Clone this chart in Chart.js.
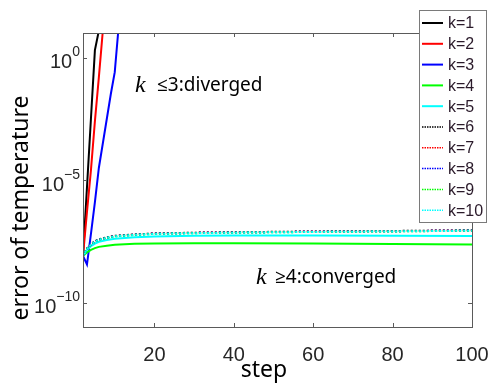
<!DOCTYPE html>
<html>
<head>
<meta charset="utf-8">
<script src="https://cdn.jsdelivr.net/npm/chart.js@4/dist/chart.umd.min.js"></script>
<style>
  html, body { margin: 0; padding: 0; background: #fff; }
  #wrap { width: 488px; height: 388px; }
</style>
</head>
<body>
<div id="wrap"><canvas id="errChart" width="488" height="388"></canvas></div>
<script>
// ── Data (values are log10 of the error) ──
const k1Steps = [2, 3, 4, 5, 6];
const k1Log   = [-8.1, -5.3, -2.5, 0.3, 1.1];
const k2Steps = [2, 3, 4, 5, 6, 7];
const k2Log   = [-8.1, -6.3, -4.6, -2.6, -0.8, 1.1];
const k3Steps = [2, 3, 4, 5, 6, 7, 8, 9, 10, 11];
const k3Log   = [-8.1, -8.45, -7.2, -5.9, -4.5, -3.5, -2.5, -1.5, -0.6, 1.3];

const convSteps = [2, 3, 4, 5, 6, 8, 10, 15, 20, 30, 40, 60, 80, 100];
const k4Log  = [-8.1, -7.95, -7.85, -7.78, -7.73, -7.68, -7.64, -7.6, -7.59, -7.58, -7.58, -7.59, -7.61, -7.63];
const k5Log  = [-8.1, -7.85, -7.7, -7.6, -7.52, -7.45, -7.4, -7.34, -7.31, -7.28, -7.27, -7.27, -7.28, -7.29];
const k6Log  = [-8.1, -7.8, -7.62, -7.5, -7.42, -7.34, -7.28, -7.22, -7.18, -7.15, -7.13, -7.1, -7.08, -7.05];
const k7Log  = [-8.1, -7.8, -7.63, -7.51, -7.43, -7.35, -7.29, -7.23, -7.19, -7.16, -7.14, -7.11, -7.09, -7.06];
const k8Log  = [-8.1, -7.81, -7.63, -7.51, -7.43, -7.35, -7.29, -7.23, -7.19, -7.16, -7.14, -7.11, -7.09, -7.06];
const k9Log  = [-8.1, -7.81, -7.64, -7.52, -7.44, -7.36, -7.3, -7.24, -7.2, -7.17, -7.15, -7.12, -7.1, -7.07];
const k10Log = [-8.1, -7.82, -7.64, -7.52, -7.44, -7.36, -7.3, -7.24, -7.2, -7.17, -7.15, -7.12, -7.1, -7.07];

const xTicks = [20, 40, 60, 80, 100];
const yTicks = [1e-10, 1e-5, 1e0];
const yTickExp = ['\u221210', '\u22125', '0'];

const toPoints = (steps, logs) => steps.map((s, i) => ({ x: s, y: Math.pow(10, logs[i]) }));

const seriesDefs = [
  { label: 'k=1',  steps: k1Steps,   logs: k1Log,  color: '#000000', dash: [] },
  { label: 'k=2',  steps: k2Steps,   logs: k2Log,  color: '#ff0000', dash: [] },
  { label: 'k=3',  steps: k3Steps,   logs: k3Log,  color: '#0000ff', dash: [] },
  { label: 'k=4',  steps: convSteps, logs: k4Log,  color: '#00ff00', dash: [] },
  { label: 'k=5',  steps: convSteps, logs: k5Log,  color: '#00ffff', dash: [] },
  { label: 'k=6',  steps: convSteps, logs: k6Log,  color: '#000000', dash: [2, 2] },
  { label: 'k=7',  steps: convSteps, logs: k7Log,  color: '#ff0000', dash: [2, 2] },
  { label: 'k=8',  steps: convSteps, logs: k8Log,  color: '#0000ff', dash: [2, 2] },
  { label: 'k=9',  steps: convSteps, logs: k9Log,  color: '#00ff00', dash: [2, 2] },
  { label: 'k=10', steps: convSteps, logs: k10Log, color: '#00ffff', dash: [2, 2] }
];

const datasets = seriesDefs.map((d, i) => ({
  label: d.label,
  data: toPoints(d.steps, d.logs),
  borderColor: d.color,
  backgroundColor: d.color,
  borderDash: d.dash,
  borderWidth: 2,
  pointRadius: 0,
  tension: 0,
  fill: false,
  order: seriesDefs.length - i
}));

// ── Frame, ticks, labels, notes and legend ──
const decorPlugin = {
  id: 'decor',
  afterDraw(chart) {
    const { ctx, chartArea: a, scales: { x, y } } = chart;
    ctx.save();

    // box
    ctx.strokeStyle = '#5a5a5a';
    ctx.lineWidth = 1;
    ctx.strokeRect(Math.round(a.left) + 0.5, Math.round(a.top) + 0.5,
                   Math.round(a.right - a.left), Math.round(a.bottom - a.top));

    // inward ticks
    ctx.beginPath();
    xTicks.forEach(v => {
      const px = Math.round(x.getPixelForValue(v)) + 0.5;
      ctx.moveTo(px, a.bottom); ctx.lineTo(px, a.bottom - 4);
      ctx.moveTo(px, a.top);    ctx.lineTo(px, a.top + 4);
    });
    yTicks.forEach(v => {
      const py = Math.round(y.getPixelForValue(v)) + 0.5;
      ctx.moveTo(a.left, py);  ctx.lineTo(a.left + 4, py);
      ctx.moveTo(a.right, py); ctx.lineTo(a.right - 4, py);
    });
    ctx.stroke();

    // y tick labels with exponents
    ctx.fillStyle = '#262626';
    ctx.textBaseline = 'middle';
    yTicks.forEach((v, i) => {
      const py = y.getPixelForValue(v);
      ctx.font = '14px "Liberation Sans", Arial, sans-serif';
      const ew = ctx.measureText(yTickExp[i]).width;
      ctx.textAlign = 'right';
      ctx.fillText(yTickExp[i], a.left - 3, py - 5);
      ctx.font = '20px "Liberation Sans", Arial, sans-serif';
      ctx.fillText('10', a.left - 3 - ew, py + 5);
    });

    // axis titles
    ctx.fillStyle = '#000';
    ctx.font = '23px "Noto Sans", "Open Sans", sans-serif';
    ctx.textAlign = 'center';
    ctx.fillText('step', 264, 370);
    ctx.save();
    ctx.translate(21, 208);
    ctx.rotate(-Math.PI / 2);
    ctx.fillText('error of temperature', 0, 0);
    ctx.restore();

    // notes
    const note = (kx, tx, ty, rest) => {
      ctx.textAlign = 'left';
      ctx.font = 'italic 24px "Liberation Serif", serif';
      ctx.fillText('k', kx, ty);
      ctx.font = '19px "Noto Sans", "Open Sans", sans-serif';
      ctx.fillText(rest, tx, ty);
    };
    note(135, 157, 86, '\u22643:diverged');
    note(256, 275, 278, '\u22654:converged');

    // legend
    const lx = 419, ly = 10, lw = 67, lh = 212, rowH = 20.8;
    ctx.fillStyle = '#fff';
    ctx.fillRect(lx, ly, lw, lh);
    ctx.strokeStyle = '#7a7a7a';
    ctx.strokeRect(lx + 0.5, ly + 0.5, lw, lh);
    chart.data.datasets.forEach((ds, i) => {
      const ry = ly + 13 + i * rowH;
      ctx.beginPath();
      ctx.strokeStyle = ds.borderColor;
      ctx.lineWidth = ds.borderDash.length ? 1.5 : 2;
      ctx.setLineDash(ds.borderDash.length ? [1.5, 1] : []);
      ctx.moveTo(lx + 3, ry); ctx.lineTo(lx + 24, ry);
      ctx.stroke();
      ctx.setLineDash([]);
      ctx.fillStyle = '#2a1a2a';
      ctx.font = '16px "Liberation Sans Narrow", "Liberation Sans", sans-serif';
      ctx.textAlign = 'left';
      ctx.fillText(ds.label, lx + 29, ry + 1);
    });

    ctx.restore();
  }
};

const chart = new Chart(document.getElementById('errChart'), {
  type: 'line',
  data: { datasets },
  options: {
    responsive: false,
    animation: false,
    layout: { padding: { left: 0, top: 33, right: 16, bottom: 0 } },
    plugins: { legend: { display: false }, tooltip: { enabled: false } },
    scales: {
      x: {
        type: 'linear',
        min: 2,
        max: 100,
        afterBuildTicks: s => { s.ticks = xTicks.map(v => ({ value: v })); },
        afterFit: s => { s.height = 61; s.paddingRight = 0; s.paddingLeft = 0; },
        grid: { display: false },
        border: { display: false },
        ticks: {
          color: '#262626',
          padding: 8,
          maxRotation: 0,
          font: { family: "'Liberation Sans', Arial, sans-serif", size: 20 }
        }
      },
      y: {
        type: 'logarithmic',
        min: 1e-11,
        max: 1e1,
        afterBuildTicks: s => { s.ticks = yTicks.map(v => ({ value: v })); },
        afterFit: s => { s.width = 83; },
        grid: { display: false },
        border: { display: false },
        ticks: { display: false }
      }
    }
  },
  plugins: [decorPlugin]
});
</script>
</body>
</html>
